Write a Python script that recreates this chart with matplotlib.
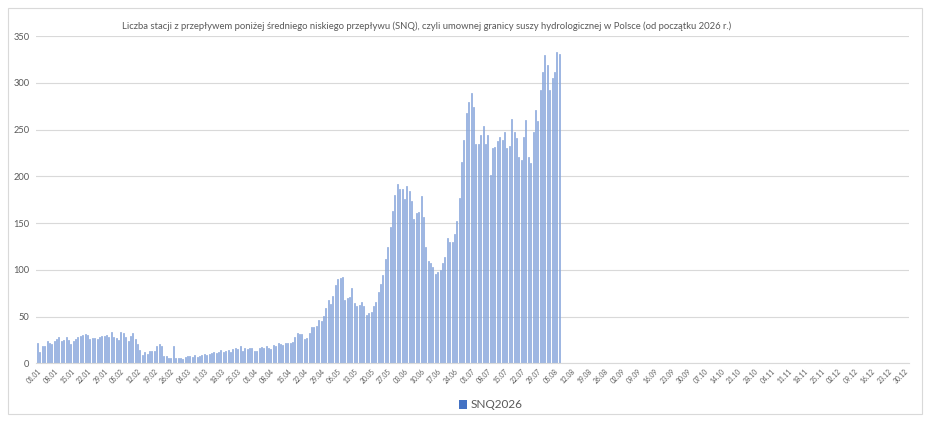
import numpy as np
import pandas as pd
import matplotlib
matplotlib.use("Agg")
import matplotlib.pyplot as plt
from matplotlib.patches import Patch, Rectangle

plt.rcParams['font.family'] = ['Lato', 'DejaVu Sans']

# categories: the sheet uses a 366-day calendar (dd.mm labels)
dates = pd.date_range("2024-01-01", periods=366, freq="D")
day_labels = [d.strftime("%d.%m") for d in dates]

# number of stations below SNQ (01.01 .. 07.08)
jan_mar = [22, 12, 18, 18, 24, 22, 21, 24, 26, 28, 24, 25, 28, 25, 21, 24,
           26, 28, 29, 30, 31, 30, 26, 27, 27, 26, 28, 29, 29, 30, 28, 34,
           28, 27, 25, 33, 32, 28, 24, 29, 32, 26, 21, 14, 9, 12, 10, 13,
           13, 13, 18, 21, 18, 8, 8, 6, 6, 18, 6, 6, 6, 5, 7, 8]
mar_apr = [8, 7, 9, 7, 8, 9, 10, 9, 10, 11, 12, 11, 12, 14, 12, 13, 14, 12,
           15, 16, 15, 18, 13, 16, 15, 16, 16, 13, 13, 16, 17, 16, 18, 16]
apr_may = [15, 20, 18, 22, 21, 20, 22, 22, 22, 23, 28, 32, 31, 31, 26, 27,
           32, 39, 39, 40, 46, 45, 51, 59, 68, 63, 72]
may_jun = [84, 90, 91, 92, 68, 70, 71, 80, 64, 61, 62, 66, 61, 52, 54, 55,
           61, 66, 76, 85, 94, 111, 124, 146, 163, 180, 192, 186, 186, 176,
           190, 184, 174, 154, 161, 162, 179, 156, 124, 109, 107, 103, 96,
           98, 100, 107, 114, 134, 130, 130, 138, 152, 177]
jun_aug = [215, 239, 268, 279, 289, 274, 234, 235, 244, 254, 234, 244, 201,
           230, 231, 238, 242, 239, 247, 230, 232, 261, 247, 241, 221, 217,
           242, 260, 221, 214, 247, 271, 259, 292, 311, 330, 319, 292, 305,
           312, 333, 331]
snq2026 = jan_mar + mar_apr + apr_may + may_jun + jun_aug

title = ("Liczba stacji z przepływem poniżej średniego niskiego przepływu (SNQ), "
         "czyli umownej granicy suszy hydrologicznej w Polsce (od początku 2026 r.)")
series_name = "SNQ2026"

W, H = 930, 422
fig = plt.figure(figsize=(W / 100, H / 100), dpi=100)
ax = fig.add_axes([36.3 / W, 1 - 363.3 / H, 872.5 / W, (363.3 - 36) / H])

x = np.arange(len(snq2026))
ax.bar(x, snq2026, width=0.42, color="#BCCFEE", edgecolor="#6F93D3",
       linewidth=0.4, zorder=2)

ax.set_xlim(-0.5, 365.7)
ax.set_ylim(0, 350)
ax.set_yticks(np.arange(0, 351, 50))
ax.yaxis.grid(True, color="#D9D9D9", linewidth=0.8, zorder=0)
ax.tick_params(axis="y", length=0, pad=5, labelsize=6.7, labelcolor="#595959")

ticks = np.arange(0, len(day_labels), 7)
ax.set_xticks(ticks)
ax.set_xticklabels([day_labels[i] for i in ticks], rotation=45, ha="right",
                   va="top", rotation_mode="anchor", fontsize=4.8, color="#595959")
ax.tick_params(axis="x", length=0, pad=3)

for s in ["top", "right", "left"]:
    ax.spines[s].set_visible(False)
ax.spines["bottom"].set_color("#D9D9D9")

fig.text(427 / W, 1 - 26 / H, title, ha="center", va="center", fontsize=6.8,
         color="#595959")

fig.legend([Patch(facecolor="#4472C4")], [series_name], loc="center",
           bbox_to_anchor=(491 / W, 1 - 405 / H), frameon=False, fontsize=8.5,
           handlelength=0.7, handleheight=0.7, handletextpad=0.3,
           labelcolor="#595959")

fig.patches.append(Rectangle((8 / W, 8 / H), 914 / W, 406 / H, fill=False,
                             edgecolor="#D9D9D9", linewidth=0.8,
                             transform=fig.transFigure))

fig.savefig("out.png", dpi=100, facecolor="white")
